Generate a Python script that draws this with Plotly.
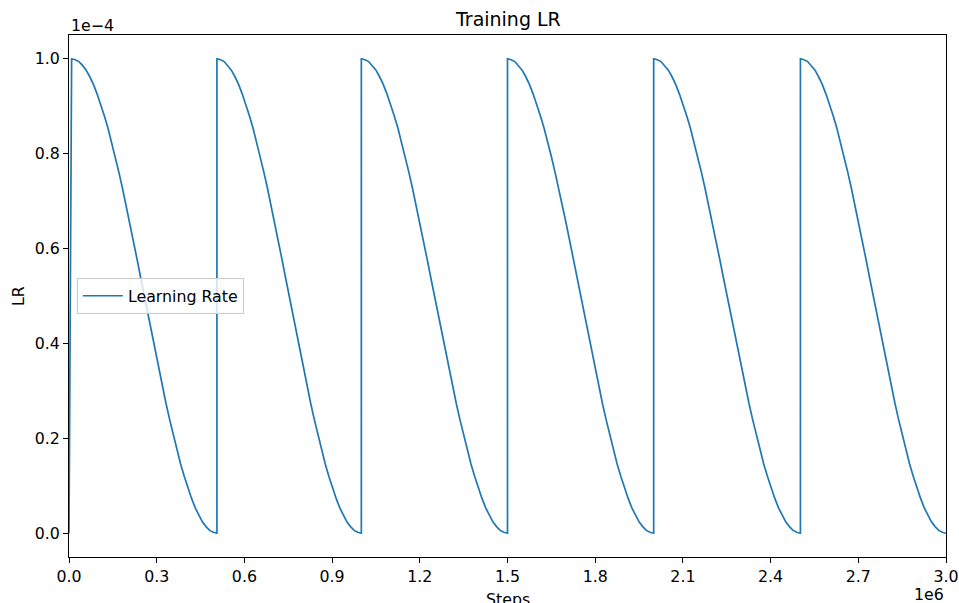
import plotly.graph_objects as go

# Cycle boundaries (steps)
warmup_start = 0
warmup_lr = 0.0
cycle_starts = [9000, 506000, 1000000, 1500000, 2000000, 2502000]
cycle_ends = [506000, 1000000, 1500000, 2000000, 2502000, 3000000]
peak_lr = 1e-4

# Shape of one decay cycle (fraction of cycle, LR / peak)
cycle_frac = [0.000, 0.025, 0.050, 0.075, 0.100, 0.125, 0.150, 0.175, 0.200, 0.225,
              0.250, 0.275, 0.300, 0.325, 0.350, 0.375, 0.400, 0.425, 0.450, 0.475,
              0.500, 0.525, 0.550, 0.575, 0.600, 0.625, 0.650, 0.675, 0.700, 0.725,
              0.750, 0.775, 0.800, 0.825, 0.850, 0.875, 0.900, 0.925, 0.950, 0.975, 1.000]
cycle_shape = [1.000, 0.998, 0.994, 0.986, 0.976, 0.962, 0.946, 0.926, 0.905, 0.880,
               0.854, 0.825, 0.794, 0.761, 0.727, 0.691, 0.655, 0.617, 0.578, 0.539,
               0.500, 0.461, 0.422, 0.383, 0.345, 0.309, 0.273, 0.239, 0.206, 0.175,
               0.146, 0.120, 0.095, 0.074, 0.054, 0.038, 0.024, 0.014, 0.006, 0.002, 0.000]

x_ticks = [0, 300000, 600000, 900000, 1200000, 1500000, 1800000, 2100000, 2400000, 2700000, 3000000]
x_tick_text = ["0.0", "0.3", "0.6", "0.9", "1.2", "1.5", "1.8", "2.1", "2.4", "2.7", "3.0"]
y_ticks = [0.0, 0.2e-4, 0.4e-4, 0.6e-4, 0.8e-4, 1.0e-4]
y_tick_text = ["0.0", "0.2", "0.4", "0.6", "0.8", "1.0"]

xs = [warmup_start]
ys = [warmup_lr]
for s, e in zip(cycle_starts, cycle_ends):
    for f, v in zip(cycle_frac, cycle_shape):
        xs.append(s + f * (e - s))
        ys.append(v * peak_lr)

FONT = "DejaVu Sans"
FS = 15.8
fig = go.Figure()
fig.add_trace(go.Scatter(x=xs, y=ys, mode="lines", name="Learning Rate",
                         line=dict(color="#1f77b4", width=1.7)))

axis_common = dict(showgrid=False, zeroline=False, showline=True, mirror=True,
                   linecolor="black", linewidth=1, ticks="outside", ticklen=5,
                   tickcolor="black", automargin=False, tickfont=dict(size=FS))

fig.update_layout(
    width=959, height=603,
    margin=dict(l=69, r=13, t=35, b=46),
    paper_bgcolor="white", plot_bgcolor="white",
    font=dict(family=FONT, size=FS, color="black"),
    showlegend=True,
    legend=dict(x=0.009, y=0.5, xanchor="left", yanchor="middle",
                bgcolor="rgba(255,255,255,0.8)", bordercolor="#cccccc", borderwidth=1,
                itemwidth=40, font=dict(size=FS)),
    xaxis=dict(range=[0, 3000000], tickvals=x_ticks, ticktext=x_tick_text, **axis_common),
    yaxis=dict(range=[-0.05e-4, 1.05e-4], tickvals=y_ticks, ticktext=y_tick_text, **axis_common),
    annotations=[
        dict(text="Training LR", x=0.5, y=1, xref="paper", yref="paper",
             xanchor="center", yanchor="middle", yshift=16, showarrow=False,
             font=dict(size=19)),
        dict(text="1e\u22124", x=0, y=1, xref="paper", yref="paper",
             xanchor="left", yanchor="middle", yshift=10, showarrow=False,
             font=dict(size=FS)),
        dict(text="1e6", x=1, y=0, xref="paper", yref="paper",
             xanchor="right", yanchor="middle", yshift=-37, showarrow=False,
             font=dict(size=FS)),
        dict(text="Steps", x=0.5, y=0, xref="paper", yref="paper",
             xanchor="center", yanchor="top", yshift=-31, showarrow=False,
             font=dict(size=FS)),
        dict(text="LR", x=0, y=0.5, xref="paper", yref="paper", textangle=-90,
             xanchor="center", yanchor="middle", xshift=-51, showarrow=False,
             font=dict(size=FS)),
    ],
)

fig.write_html("out.html")
